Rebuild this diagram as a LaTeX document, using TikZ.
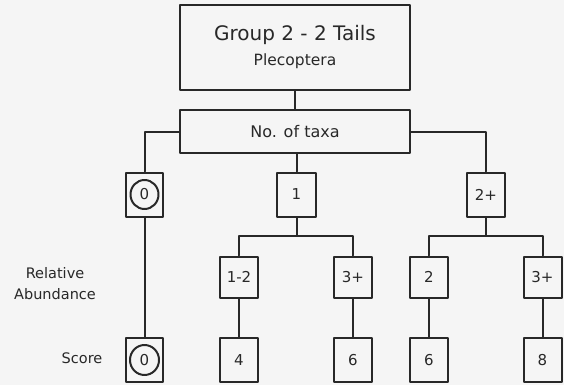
\documentclass[tikz,border=0pt]{standalone}
\usepackage{fontspec}
\setmainfont{DejaVu Sans}
\usetikzlibrary{arrows}
\definecolor{inkgray}{RGB}{40,40,40}
\definecolor{papergray}{RGB}{245,245,245}
\tikzset{
  box/.style={draw=inkgray,line width=2pt,text=inkgray,inner sep=0pt,minimum width=38pt,minimum height=44pt,font=\fontsize{15}{17}\selectfont},
  wide/.style={box,minimum width=230pt},
  link/.style={line width=2pt,color=inkgray},
  ring/.style={line width=2pt,color=inkgray},
  rowlabel/.style={text=inkgray,align=center,inner sep=0pt,font=\fontsize{14.5}{21}\selectfont}
}
\begin{document}
\begin{tikzpicture}[scale=1,line cap=round,line join=round,>=latex,x=1.0pt,y=-1.0pt]
\fill [papergray] (0,0) rectangle (564,385);
\useasboundingbox (0,0) rectangle (564,385);
%\draw [help lines] (0,0) grid (564,385);
\node [wide,minimum height=85pt,align=center,font=\fontsize{20}{25}\selectfont] (group) at (295,47.5) {Group 2 - 2 Tails\\{\fontsize{15.5}{17}\selectfont Plecoptera}};
\node [wide,minimum height=43pt,font=\fontsize{16}{18}\selectfont] (taxa) at (295,131.5) {No. of taxa};
\node [box,minimum width=37pt] (n0) at (144.5,194.5) {0};
\node [box,minimum width=39pt] (n1) at (296.5,194.5) {1};
\node [box] (n2p) at (486,194.5) {2+};
\node [box,minimum height=41pt] (r12) at (239,277) {1-2};
\node [box,minimum height=41pt] (r3p) at (353,277) {3+};
\node [box,minimum height=41pt] (r2) at (429,277) {2};
\node [box,minimum height=41pt] (r3pp) at (542.5,277) {3+};
\node [box,minimum width=37pt] (s0) at (144.5,360) {0};
\node [box] (s4) at (239,360) {4};
\node [box] (s6a) at (353,360) {6};
\node [box] (s6b) at (429,360) {6};
\node [box] (s8) at (542.5,360) {8};
\draw [ring] (n0.center) ellipse [x radius=14pt,y radius=14.5pt];
\draw [ring] (s0.center) ellipse [x radius=14.5pt,y radius=15pt];
\draw [link] (group) -- (taxa);
\draw [link] (taxa.west) -| (n0.north);
\draw [link] (taxa.south -| n1.north) -- (n1.north);
\draw [link] (taxa.east) -| (n2p.north);
\draw [link] (n1.south) -- ++(0,18) coordinate (b1) -| (r12.north);
\draw [link] (b1) -| (r3p.north);
\draw [link] (n2p.south) -- ++(0,18) coordinate (b2) -| (r2.north);
\draw [link] (b2) -| (r3pp.north);
\draw [link] (n0) -- (s0);
\draw [link] (r12) -- (s4);
\draw [link] (r3p) -- (s6a);
\draw [link] (r2) -- (s6b);
\draw [link] (r3pp) -- (s8);
\node [rowlabel] (abund) at (55,283.5) {Relative\\Abundance};
\node [rowlabel] (score) at (82,358) {Score};
\end{tikzpicture}
\end{document}
